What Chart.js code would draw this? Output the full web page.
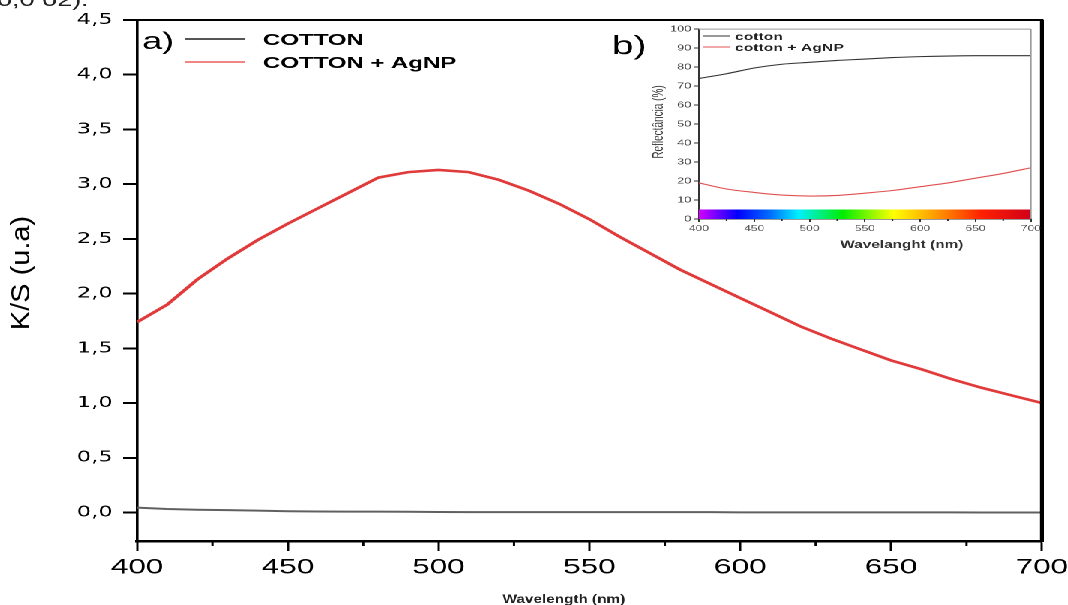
<!DOCTYPE html>
<html>
<head>
<meta charset="utf-8">
<script src="https://cdn.jsdelivr.net/npm/chart.js@4.4.0/dist/chart.umd.min.js"></script>
<style>
  html, body { margin: 0; padding: 0; background: #fff; overflow: hidden; }
  /* the original figure is stretched sideways, so the whole drawing is too */
  #wrap { position: absolute; left: 0; top: 0; width: 718px; height: 605px; transform: scaleX(1.5); transform-origin: 0 0; }
  #inset { position: absolute; left: 400px; top: 22px; }
</style>
</head>
<body>
<div id="wrap">
  <canvas id="main" width="718" height="605"></canvas>
  <canvas id="inset" width="296" height="240"></canvas>
</div>
<script>
// a) K/S curves, every 10 nm
const wavelengths = [400, 410, 420, 430, 440, 450, 460, 470, 480, 490, 500, 510, 520, 530, 540, 550,
  560, 570, 580, 590, 600, 610, 620, 630, 640, 650, 660, 670, 680, 690, 700];
const ksCotton = [0.045, 0.032, 0.025, 0.022, 0.018, 0.012, 0.009, 0.008, 0.008, 0.007, 0.005, 0.004,
  0.004, 0.004, 0.004, 0.004, 0.004, 0.004, 0.004, 0.004, 0.001, 0.001, 0.001, 0.001, 0.001, 0.001,
  0.001, 0.001, 0.0, 0.0, 0.0];
const ksAgnp = [1.74, 1.90, 2.13, 2.32, 2.49, 2.64, 2.78, 2.92, 3.06, 3.11, 3.13, 3.11, 3.04, 2.94, 2.82,
  2.68, 2.52, 2.37, 2.22, 2.09, 1.96, 1.83, 1.70, 1.59, 1.49, 1.39, 1.31, 1.22, 1.14, 1.07, 1.00];
const seriesNames = ["COTTON", "COTTON + AgNP"];
const xTicks = [400, 450, 500, 550, 600, 650, 700];
const xMinorTicks = [425, 475, 525, 575, 625, 675];
const yTicks = [0, 0.5, 1, 1.5, 2, 2.5, 3, 3.5, 4, 4.5];

// b) reflectance inset, every 25 nm
const insetWavelengths = [400, 425, 450, 475, 500, 525, 550, 575, 600, 625, 650, 675, 700];
const reflCotton = [74, 76.5, 79.5, 81.5, 82.5, 83.5, 84.2, 85, 85.5, 85.8, 86, 86, 86];
const reflAgnp = [19, 15.8, 14, 12.6, 12.1, 12.4, 13.6, 15, 17, 19, 21.5, 24, 27];
const insetNames = ["cotton", "cotton + AgNP"];
const insetYTicks = [0, 10, 20, 30, 40, 50, 60, 70, 80, 90, 100];
const insetMinorTicks = [425, 475, 525, 575, 625, 675];
// visible spectrum strip under the inset curves
const spectrumWl = [400, 435, 465, 490, 530, 576, 600, 620, 655, 700];
const spectrumColors = ["#d400ff", "#0000ff", "#0070ff", "#00f0ff", "#00ee00", "#ffff00",
  "#ffc000", "#ff8800", "#ff2200", "#d0001a"];
const spectrumHeight = 5;

const FONT = "'Liberation Sans', Arial, sans-serif";

function drawText(ctx, txt, x, y, font, color, sx, align) {
  ctx.save();
  ctx.translate(x, y);
  ctx.scale(sx, 1);
  ctx.font = font;
  ctx.fillStyle = color;
  ctx.textAlign = align || "left";
  ctx.textBaseline = "alphabetic";
  ctx.fillText(txt, 0, 0);
  ctx.restore();
}

function line(ctx, x0, y0, x1, y1) {
  ctx.beginPath();
  ctx.moveTo(x0, y0);
  ctx.lineTo(x1, y1);
  ctx.stroke();
}

// frame, minor ticks, legend and labels of the main plot
const mainDecor = {
  id: "mainDecor",
  afterDraw(chart) {
    const { ctx, chartArea: a } = chart;
    const x = chart.scales.x;
    ctx.save();
    ctx.strokeStyle = "#000";
    ctx.lineWidth = 2;
    line(ctx, a.left, a.top, a.right + 1, a.top);
    ctx.lineWidth = 2.6;
    line(ctx, a.right, a.top, a.right, a.bottom + 1);
    ctx.lineWidth = 1.5;
    xMinorTicks.forEach(v => {
      const px = x.getPixelForValue(v);
      line(ctx, px, a.bottom, px, a.bottom + 5);
    });

    // legend
    const legendColors = ["#555", "#ef8585"];
    ctx.lineWidth = 2;
    seriesNames.forEach((name, i) => {
      const ly = 39 + i * 23;
      ctx.strokeStyle = legendColors[i];
      line(ctx, 123.3, ly, 163.3, ly);
      drawText(ctx, name, 175.3, ly + 6, "bold 16px " + FONT, "#000", 1, "left");
    });
    drawText(ctx, "a)", 94.7, 49, "24px " + FONT, "#000", 1, "left");
    drawText(ctx, "b)", 408, 54, "26px " + FONT, "#000", 1, "left");

    // axis titles
    ctx.save();
    ctx.translate(14.7, 273);
    ctx.rotate(-Math.PI / 2);
    ctx.scale(1, 0.6);
    ctx.font = "29px " + FONT;
    ctx.fillStyle = "#000";
    ctx.textAlign = "center";
    ctx.textBaseline = "middle";
    ctx.fillText("K/S (u.a)", 0, 0);
    ctx.restore();
    drawText(ctx, "Wavelength (nm)", 376, 603, "bold 12px " + FONT, "#222", 0.85, "center");

    // caption text cut off at the top edge
    drawText(ctx, "0,0 02).", -2, 6, "18px " + FONT, "#222", 1, "left");
    ctx.restore();
  }
};

new Chart(document.getElementById("main"), {
  type: "line",
  data: {
    datasets: [
      {
        label: seriesNames[0],
        data: wavelengths.map((w, i) => ({ x: w, y: ksCotton[i] })),
        borderColor: "#606060",
        borderWidth: 2,
        pointRadius: 0,
        tension: 0
      },
      {
        label: seriesNames[1],
        data: wavelengths.map((w, i) => ({ x: w, y: ksAgnp[i] })),
        borderColor: "#e03a3a",
        borderWidth: 2.6,
        pointRadius: 0,
        tension: 0
      }
    ]
  },
  options: {
    responsive: false,
    animation: false,
    devicePixelRatio: 2,
    layout: { padding: { left: 0, right: 23.3, top: 20, bottom: 0 } },
    plugins: { legend: { display: false }, tooltip: { enabled: false } },
    scales: {
      x: {
        type: "linear",
        min: 400,
        max: 700,
        afterBuildTicks: s => { s.ticks = xTicks.map(v => ({ value: v })); },
        afterFit: s => { s.height = 64; },
        ticks: { color: "#000", font: { family: FONT, size: 21 }, padding: 4, maxRotation: 0, callback: v => String(v) },
        grid: { drawOnChartArea: false, drawTicks: true, tickLength: 10, tickWidth: 1.5, tickColor: "#000" },
        border: { display: true, color: "#000", width: 2.5 }
      },
      y: {
        type: "linear",
        min: -0.26,
        max: 4.5,
        afterBuildTicks: s => { s.ticks = yTicks.map(v => ({ value: v })); },
        afterFit: s => { s.width = 91.3; },
        ticks: { color: "#000", font: { family: "'DejaVu Sans', sans-serif", size: 15 }, padding: 7, callback: v => v.toFixed(1).replace(".", ",") },
        grid: { drawOnChartArea: false, drawTicks: true, tickLength: 9.3, tickWidth: 2, tickColor: "#000" },
        border: { display: true, color: "#000", width: 1.8 }
      }
    }
  },
  plugins: [mainDecor]
});

// inset frame, legend, titles
const insetDecor = {
  id: "insetDecor",
  afterDraw(chart) {
    const { ctx, chartArea: a } = chart;
    const x = chart.scales.x;
    ctx.save();
    ctx.strokeStyle = "#9a9a9a";
    ctx.lineWidth = 1;
    line(ctx, a.left, a.top, a.right, a.top);
    line(ctx, a.right, a.top, a.right, a.bottom);
    ctx.strokeStyle = "#333";
    insetMinorTicks.forEach(v => {
      const px = x.getPixelForValue(v);
      line(ctx, px, a.bottom, px, a.bottom + 2);
    });

    const colors = ["#333", "#e05050"];
    insetNames.forEach((name, i) => {
      const ly = 14 + i * 11;
      ctx.strokeStyle = colors[i];
      line(ctx, 68.7, ly, 86.7, ly);
      drawText(ctx, name, 90, ly + 4, "bold 10.5px " + FONT, "#222", 1, "left");
    });

    ctx.save();
    ctx.translate(39.3, 100);
    ctx.rotate(-Math.PI / 2);
    ctx.font = "10px " + FONT;
    ctx.fillStyle = "#333";
    ctx.textAlign = "center";
    ctx.textBaseline = "middle";
    ctx.fillText("Reflectância (%)", 0, 0);
    ctx.restore();
    drawText(ctx, "Wavelanght (nm)", 201.3, 226, "bold 11px " + FONT, "#333", 0.93, "center");
    ctx.restore();
  }
};

new Chart(document.getElementById("inset"), {
  type: "line",
  data: {
    datasets: [
      {
        label: "spectrum",
        data: [
          { x: spectrumWl[0], y: spectrumHeight },
          { x: spectrumWl[spectrumWl.length - 1], y: spectrumHeight }
        ],
        borderWidth: 0,
        pointRadius: 0,
        fill: "origin",
        backgroundColor(c) {
          const chart = c.chart;
          if (!chart.chartArea) return "transparent";
          const xs = chart.scales.x;
          const w0 = spectrumWl[0], w1 = spectrumWl[spectrumWl.length - 1];
          const g = chart.ctx.createLinearGradient(xs.getPixelForValue(w0), 0, xs.getPixelForValue(w1), 0);
          spectrumWl.forEach((w, i) => g.addColorStop((w - w0) / (w1 - w0), spectrumColors[i]));
          return g;
        }
      },
      {
        label: insetNames[0],
        data: insetWavelengths.map((w, i) => ({ x: w, y: reflCotton[i] })),
        borderColor: "#333",
        borderWidth: 1.1,
        pointRadius: 0,
        tension: 0.3
      },
      {
        label: insetNames[1],
        data: insetWavelengths.map((w, i) => ({ x: w, y: reflAgnp[i] })),
        borderColor: "#e05050",
        borderWidth: 1.1,
        pointRadius: 0,
        tension: 0.3
      }
    ]
  },
  options: {
    responsive: false,
    animation: false,
    devicePixelRatio: 2,
    layout: { padding: { left: 0, right: 8, top: 6.5, bottom: 0 } },
    plugins: { legend: { display: false }, tooltip: { enabled: false } },
    scales: {
      x: {
        type: "linear",
        min: 400,
        max: 700,
        afterBuildTicks: s => { s.ticks = xTicks.map(v => ({ value: v })); },
        afterFit: s => { s.height = 43; },
        ticks: { color: "#555", font: { family: FONT, size: 8 }, padding: 2, maxRotation: 0, callback: v => String(v) },
        grid: { drawOnChartArea: false, drawTicks: true, tickLength: 3, tickWidth: 1, tickColor: "#333" },
        border: { display: true, color: "#333", width: 1 }
      },
      y: {
        type: "linear",
        min: 0,
        max: 100,
        afterBuildTicks: s => { s.ticks = insetYTicks.map(v => ({ value: v })); },
        afterFit: s => { s.width = 66; },
        ticks: { color: "#444", font: { family: FONT, size: 8.5 }, padding: 2, callback: v => String(v) },
        grid: { drawOnChartArea: false, drawTicks: true, tickLength: 3, tickWidth: 1, tickColor: "#333" },
        border: { display: true, color: "#333", width: 1 }
      }
    }
  },
  plugins: [insetDecor]
});
</script>
</body>
</html>
